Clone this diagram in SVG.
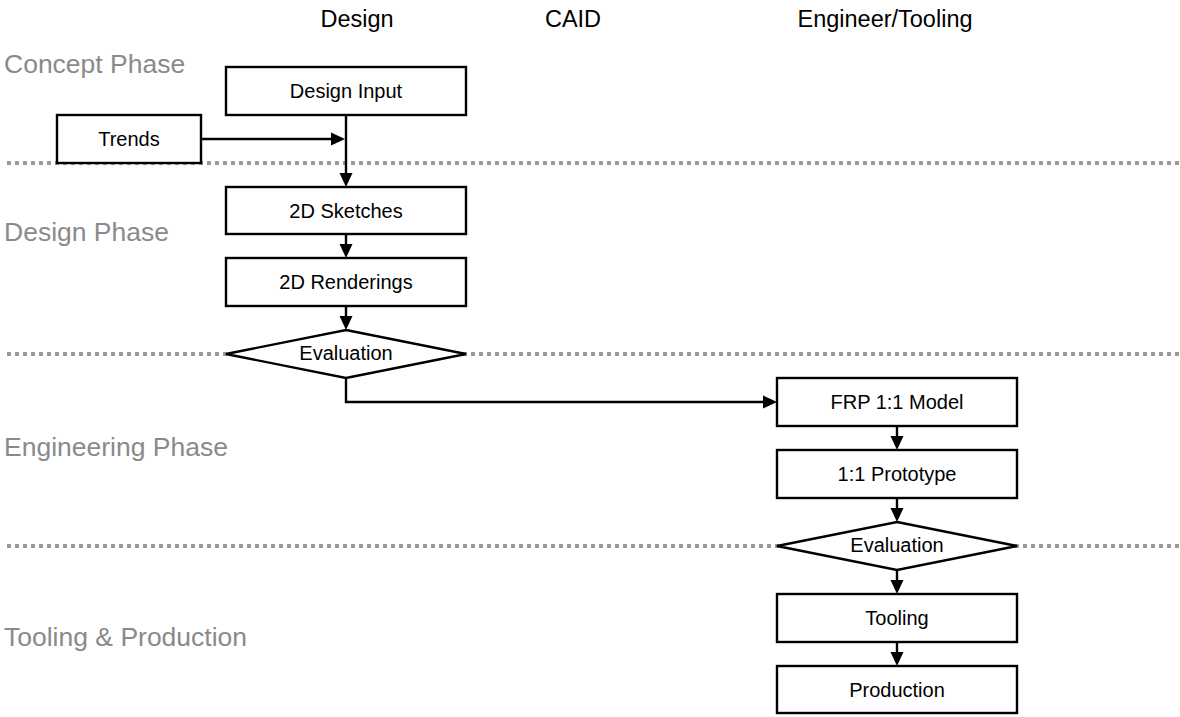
<svg xmlns="http://www.w3.org/2000/svg" width="1180" height="717" viewBox="0 0 1180 717">
<defs>
<marker id="arr" markerWidth="14" markerHeight="14" refX="10" refY="7" orient="auto" markerUnits="userSpaceOnUse">
<path d="M0,0.5 L14,7 L0,13.5 Z" fill="#000"/>
</marker>
<style>
.box{fill:#fff;stroke:#000;stroke-width:2.4}
.t{font-family:"Liberation Sans",Arial,sans-serif;font-size:20px;fill:#000;text-anchor:middle}
.hd{font-family:"Liberation Sans",Arial,sans-serif;font-size:23.5px;fill:#000;text-anchor:middle}
.ph{font-family:"Liberation Sans",Arial,sans-serif;font-size:26.5px;fill:#8a8a8a}
.sep{stroke:#999;stroke-width:4;stroke-dasharray:4 4;fill:none}
.c{stroke:#000;stroke-width:2.4;fill:none;marker-end:url(#arr)}
</style>
</defs>
<rect width="1180" height="717" fill="#fff"/>
<g id="separators">
<line class="sep" x1="7" y1="163" x2="1180" y2="163"/>
<line class="sep" x1="7" y1="354" x2="1180" y2="354"/>
<line class="sep" x1="7" y1="546" x2="1180" y2="546"/>
</g>
<g id="headers">
<text class="hd" x="357" y="27">Design</text>
<text class="hd" x="573" y="27">CAID</text>
<text class="hd" x="885" y="27">Engineer/Tooling</text>
</g>
<g id="phases">
<text class="ph" x="4" y="73">Concept Phase</text>
<text class="ph" x="4" y="241">Design Phase</text>
<text class="ph" x="4" y="456">Engineering Phase</text>
<text class="ph" x="4" y="646">Tooling &amp; Production</text>
</g>
<g id="connectors">
<line class="c" x1="201" y1="139" x2="341" y2="139"/>
<line class="c" x1="346" y1="115" x2="346" y2="183"/>
<line class="c" x1="346" y1="234" x2="346" y2="254"/>
<line class="c" x1="346" y1="306" x2="346" y2="326"/>
<polyline class="c" points="346,378 346,402 773,402"/>
<line class="c" x1="897" y1="426" x2="897" y2="446"/>
<line class="c" x1="897" y1="498" x2="897" y2="518"/>
<line class="c" x1="897" y1="570" x2="897" y2="590"/>
<line class="c" x1="897" y1="642" x2="897" y2="662"/>
</g>
<g id="design-input"><rect class="box" x="226" y="67" width="240" height="48"/><text class="t" x="346" y="98">Design Input</text></g>
<g id="trends"><rect class="box" x="57" y="115" width="144" height="48"/><text class="t" x="129" y="146">Trends</text></g>
<g id="sketches"><rect class="box" x="226" y="187" width="240" height="47"/><text class="t" x="346" y="218">2D Sketches</text></g>
<g id="renderings"><rect class="box" x="226" y="258" width="240" height="48"/><text class="t" x="346" y="289">2D Renderings</text></g>
<g id="evaluation1"><polygon class="box" points="346,330 466,354 346,378 226,354"/><text class="t" x="346" y="360">Evaluation</text></g>
<g id="frp-model"><rect class="box" x="777" y="378" width="240" height="48"/><text class="t" x="897" y="409">FRP 1:1 Model</text></g>
<g id="prototype"><rect class="box" x="777" y="450" width="240" height="48"/><text class="t" x="897" y="481">1:1 Prototype</text></g>
<g id="evaluation2"><polygon class="box" points="897,522 1017,546 897,570 777,546"/><text class="t" x="897" y="552">Evaluation</text></g>
<g id="tooling"><rect class="box" x="777" y="594" width="240" height="48"/><text class="t" x="897" y="625">Tooling</text></g>
<g id="production"><rect class="box" x="777" y="666" width="240" height="47"/><text class="t" x="897" y="697">Production</text></g>
</svg>
